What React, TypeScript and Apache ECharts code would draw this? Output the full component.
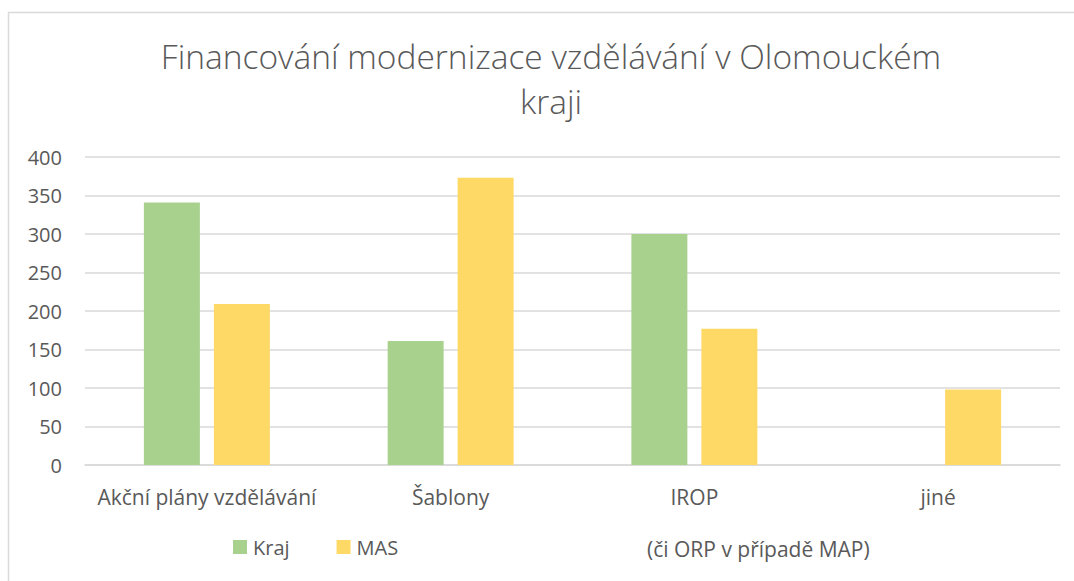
import React, { useEffect, useRef } from "react";
import * as echarts from "echarts";

const categories = ["Akční plány vzdělávání", "Šablony", "IROP", "jiné"];
const krajValues = [341, 161, 300, null];
const masValues = [209, 373, 177, 98];
const yTicks = { min: 0, max: 400, interval: 50 };
const titleText = "Financování modernizace vzdělávání v Olomouckém\nkraji";
const legendNote = "(či ORP v případě MAP)";

export default function App() {
  const ref = useRef<HTMLDivElement>(null);
  useEffect(() => {
    if (!ref.current) return;
    const chart = echarts.init(ref.current, undefined, { renderer: "svg" });
    const font = "'Open Sans', sans-serif";
    chart.setOption({
      animation: false,
      backgroundColor: "#ffffff",
      textStyle: { fontFamily: font },
      title: {
        text: titleText,
        left: 546,
        textAlign: "center",
        top: 28,
        textStyle: {
          fontFamily: font,
          fontSize: 33.5,
          fontWeight: 300,
          color: "#595959",
          lineHeight: 45,
        },
      },
      grid: { left: 85, right: 14, top: 157, bottom: 116 },
      xAxis: {
        type: "category",
        data: categories,
        axisLine: { lineStyle: { color: "#d9d9d9", width: 1.5 } },
        axisTick: { show: false },
        axisLabel: { color: "#595959", fontSize: 21, margin: 21, interval: 0, fontFamily: font },
      },
      yAxis: {
        type: "value",
        min: yTicks.min,
        max: yTicks.max,
        interval: yTicks.interval,
        axisLine: { show: false },
        axisTick: { show: false },
        splitLine: { lineStyle: { color: "#d9d9d9", width: 1.5 } },
        axisLabel: { color: "#595959", fontSize: 20, margin: 23, fontFamily: font },
      },
      legend: {
        left: 233,
        top: 537,
        padding: 0,
        itemWidth: 14,
        itemHeight: 14,
        itemGap: 47,
        icon: "rect",
        textStyle: { color: "#595959", fontSize: 20, fontFamily: font, padding: [0, 0, 0, 1] },
        data: ["Kraj", "MAS"],
      },
      graphic: [
        {
          type: "rect",
          shape: { x: 8.5, y: 12.5, width: 1200, height: 700 },
          style: { fill: "none", stroke: "#d9d9d9", lineWidth: 1.5 },
          silent: true,
        },
        {
          type: "text",
          x: 647,
          y: 549,
          style: {
            text: legendNote,
            fill: "#595959",
            fontSize: 21,
            fontFamily: font,
            verticalAlign: "middle",
          },
        },
      ],
      series: [
        {
          name: "Kraj",
          type: "bar",
          data: krajValues,
          barWidth: 56,
          barGap: "25%",
          itemStyle: { color: "#A9D18E" },
        },
        {
          name: "MAS",
          type: "bar",
          data: masValues,
          barWidth: 56,
          itemStyle: { color: "#FFD966" },
        },
      ],
    });
    return () => chart.dispose();
  }, []);
  return (
    <div
      ref={ref}
      style={{ position: "fixed", left: 0, top: 0, width: 1074, height: 581 }}
    />
  );
}
